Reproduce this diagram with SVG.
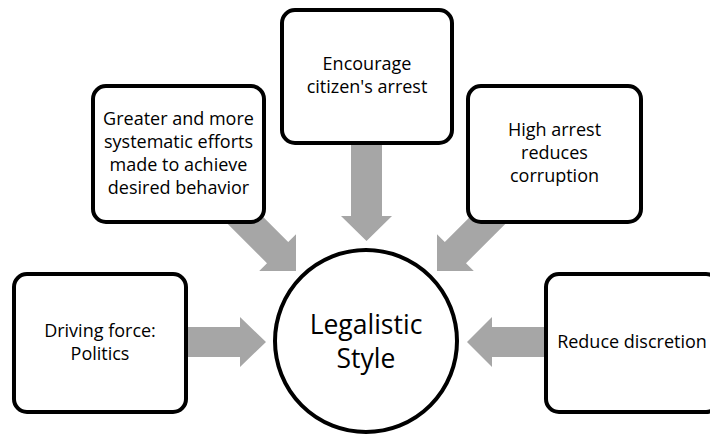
<svg xmlns="http://www.w3.org/2000/svg" width="710" height="436" viewBox="0 0 710 436">
<style>
.box{fill:#fff;stroke:#000;stroke-width:4}
.arr{fill:#a6a6a6;stroke:none}
.t{font-family:"Open Sans","Noto Sans",sans-serif;font-size:18px;fill:#000;text-anchor:middle}
.big{font-family:"Open Sans","Noto Sans",sans-serif;font-size:26.5px;fill:#000;text-anchor:middle}
</style>
<rect width="710" height="436" fill="#fff"/>
<g id="connectors">
<polygon class="arr" points="214,210.2 235.2,189 288.2,242 296,234.2 296,271 259.2,271 267,263.2"/>
<polygon class="arr" points="519,210.2 497.8,189 444.8,242 437,234.2 437,271 473.8,271 466,263.2"/>
<polygon class="arr" points="351,140 382,140 382,216 392,216 366.5,241 341,216 351,216"/>
<polygon class="arr" points="180,327 240,327 240,317 266,342 240,367 240,357 180,357"/>
<polygon class="arr" points="552,327 492,327 492,317 467,342 492,367 492,357 552,357"/>
</g>
<g id="node-greater">
<rect class="box" x="93" y="86" width="171" height="136" rx="13"/>
<text class="t" x="178.5" y="125">Greater and more</text>
<text class="t" x="178.5" y="148">systematic efforts</text>
<text class="t" x="178.5" y="171">made to achieve</text>
<text class="t" x="178.5" y="194">desired behavior</text>
</g>
<g id="node-encourage">
<rect class="box" x="282" y="10" width="170" height="133" rx="13"/>
<text class="t" x="367" y="70">Encourage</text>
<text class="t" x="367" y="93">citizen's arrest</text>
</g>
<g id="node-higharrest">
<rect class="box" x="468" y="86" width="173" height="136" rx="13"/>
<text class="t" x="554.5" y="136">High arrest</text>
<text class="t" x="554.5" y="159">reduces</text>
<text class="t" x="554.5" y="182">corruption</text>
</g>
<g id="node-driving">
<rect class="box" x="14" y="274" width="172" height="138" rx="13"/>
<text class="t" x="100" y="337">Driving force:</text>
<text class="t" x="100" y="360">Politics</text>
</g>
<g id="node-reduce">
<rect class="box" x="546" y="274" width="173" height="138" rx="13"/>
<text class="t" x="632" y="348">Reduce discretion</text>
</g>
<g id="node-legalistic">
<circle class="box" cx="366" cy="341" r="91"/>
<text class="big" x="366" y="334">Legalistic</text>
<text class="big" x="366" y="368">Style</text>
</g>
</svg>
